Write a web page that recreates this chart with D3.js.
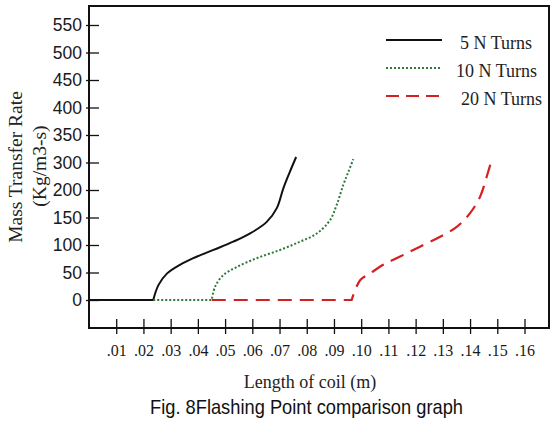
<!DOCTYPE html>
<html>
<head>
<meta charset="utf-8">
<script src="https://cdn.jsdelivr.net/npm/d3@7"></script>
<style>
  html, body { margin: 0; padding: 0; background: #fff; }
  svg { display: block; }
</style>
</head>
<body>
<svg id="chart" width="556" height="434"></svg>
<script>
// values: [length of coil (m), mass transfer rate]
const turns5 = [
  [0, 0], [0.0236, 0],
  [0.0255, 27], [0.0286, 48], [0.0334, 64], [0.0383, 76], [0.0457, 91],
  [0.0530, 106], [0.0592, 121], [0.0653, 142], [0.0690, 167],
  [0.0714, 206], [0.0738, 266], [0.0761, 310]
];
const turns10 = [
  [0.0236, 0], [0.0451, 0],
  [0.0463, 24], [0.0493, 45], [0.0543, 60], [0.0616, 76], [0.0702, 91],
  [0.0775, 106], [0.0837, 121], [0.0885, 145], [0.0910, 173],
  [0.0934, 218], [0.0953, 266], [0.0971, 306]
];
const turns20 = [
  [0.0451, 0], [0.0965, 0],
  [0.0996, 36], [0.1032, 48], [0.1081, 64], [0.1143, 79], [0.1216, 97],
  [0.1290, 115], [0.1351, 133], [0.1400, 158], [0.1437, 188],
  [0.1461, 248], [0.1476, 298]
];

const seriesNames = ["5 N Turns", "10 N Turns", "20 N Turns"];
const yTicks = [0, 50, 100, 150, 200, 300, 350, 400, 450, 500, 550];
const xTicks = [0.01, 0.02, 0.03, 0.04, 0.05, 0.06, 0.07, 0.08, 0.09, 0.10,
                0.11, 0.12, 0.13, 0.14, 0.15, 0.16];
const xTickLabels = [".01", ".02", ".03", ".04", ".05", ".06", ".07", ".08",
                     ".09", ".10", ".11", ".12", ".13", ".14", ".15", ".16"];

const svg = d3.select("#chart");
const margin = { top: 6, right: 7, bottom: 106, left: 89 };
const W = +svg.attr("width"), H = +svg.attr("height");
const serif = "'Liberation Serif', 'Times New Roman', serif";

const x = d3.scaleLinear().domain([0, 0.169]).range([margin.left, W - margin.right]);
// the printed axis skips 250, so its spacing is not linear
const y = d3.scaleLinear().domain([0, 200, 300, 550]).range([300, 190, 162.5, 25]);

// frame
svg.append("rect")
  .attr("x", margin.left).attr("y", margin.top)
  .attr("width", W - margin.right - margin.left)
  .attr("height", H - margin.bottom - margin.top)
  .attr("fill", "none").attr("stroke", "#111").attr("stroke-width", 2);

// y axis
const gy = svg.append("g")
  .attr("transform", `translate(${margin.left},0)`)
  .call(d3.axisLeft(y).tickValues(yTicks).tickSize(3).tickPadding(4));
gy.select(".domain").remove();
gy.selectAll(".tick line").attr("x1", 10).attr("stroke", "#111").attr("stroke-width", 1.3);
gy.selectAll(".tick text")
  .attr("fill", "#1a1a1a")
  .style("font-family", "'Liberation Sans', Arial, sans-serif")
  .style("font-size", "17.5px");

// x axis
const gx = svg.append("g")
  .attr("transform", `translate(0,${H - margin.bottom})`)
  .call(d3.axisBottom(x).tickValues(xTicks).tickSize(6).tickPadding(11)
    .tickFormat((d, i) => xTickLabels[i]));
gx.select(".domain").remove();
gx.selectAll(".tick line").attr("y1", -9).attr("stroke", "#111").attr("stroke-width", 1.3);
gx.selectAll(".tick text")
  .attr("fill", "#1a1a1a")
  .style("font-family", serif)
  .style("font-size", "16px");

// axis titles
svg.append("text")
  .attr("x", 310).attr("y", 388)
  .attr("text-anchor", "middle")
  .style("font-family", serif).style("font-size", "18px")
  .attr("fill", "#222")
  .text("Length of coil (m)");

svg.append("text")
  .attr("transform", "translate(22,167) rotate(-90)")
  .attr("text-anchor", "middle")
  .style("font-family", serif).style("font-size", "19.5px")
  .attr("fill", "#222")
  .text("Mass Transfer Rate");
svg.append("text")
  .attr("transform", "translate(46,166) rotate(-90)")
  .attr("text-anchor", "middle")
  .style("font-family", serif).style("font-size", "19.5px")
  .attr("fill", "#222")
  .text("(Kg/m3-s)");

// caption
svg.append("text")
  .attr("x", 150).attr("y", 414)
  .attr("textLength", 313).attr("lengthAdjust", "spacingAndGlyphs")
  .style("font-family", "'Liberation Sans Narrow', 'Liberation Sans', Arial, sans-serif")
  .style("font-size", "21px")
  .attr("fill", "#111")
  .text("Fig. 8Flashing Point comparison graph");

// curves: straight run along zero, then a smooth rise
const rise = d3.line().x(d => x(d[0])).y(d => y(d[1])).curve(d3.curveCatmullRom.alpha(0.5));
function curvePath(data) {
  const start = data[0];
  return `M${x(start[0])},${y(start[1])}` + rise(data.slice(1)).replace(/^M/, "L");
}

const styles = [
  { color: "#111", width: 2, dash: null },
  { color: "#2f7a3a", width: 2, dash: "2,2" },
  { color: "#d42020", width: 2.2, dash: "14,8" }
];
const allSeries = [turns5, turns10, turns20];

svg.append("g").selectAll("path")
  .data(allSeries)
  .join("path")
  .attr("d", curvePath)
  .attr("fill", "none")
  .attr("stroke", (d, i) => styles[i].color)
  .attr("stroke-width", (d, i) => styles[i].width)
  .attr("stroke-dasharray", (d, i) => styles[i].dash);

// legend
const legendY = [40, 68, 96];
const legendDx = [2, -2, 3];
const lg = svg.append("g").selectAll("g")
  .data(seriesNames)
  .join("g")
  .attr("transform", (d, i) => `translate(0,${legendY[i]})`);
lg.append("line")
  .attr("x1", 386).attr("x2", 442)
  .attr("stroke", (d, i) => styles[i].color)
  .attr("stroke-width", (d, i) => styles[i].width)
  .attr("stroke-dasharray", (d, i) => (i === 2 ? "13,7" : styles[i].dash));
lg.append("text")
  .attr("x", (d, i) => 458 + legendDx[i])
  .attr("y", 9)
  .style("font-family", serif).style("font-size", "18px")
  .attr("fill", "#222")
  .text(d => d);
</script>
</body>
</html>
